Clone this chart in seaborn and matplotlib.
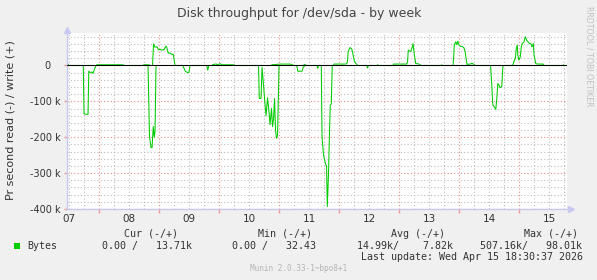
import numpy as np
import pandas as pd
import seaborn as sns
import matplotlib
matplotlib.use("Agg")
import matplotlib.pyplot as plt
from matplotlib.ticker import FixedLocator, MultipleLocator, FuncFormatter
from matplotlib.patches import Rectangle

# ---------------- data (hours since Apr 07 00:00, bytes/s) ----------------
read_hours = [11.0, 17.6, 17.9, 18.5, 19.5, 19.8, 20.4, 21.1, 21.5, 22.0, 22.7,
              43.5, 44.1, 44.7, 45.1, 45.6, 46.0, 46.3, 46.7,
              57.4, 58.4, 59.4, 59.9, 60.3,
              67.0, 67.4, 67.8,
              87.7, 88.0, 88.7, 89.1, 89.7, 90.3, 90.7, 91.3, 91.9, 92.3, 92.9,
              93.3, 93.7, 94.1, 94.5, 94.9, 95.3, 95.9,
              103.0, 103.4, 105.1, 105.6, 106.3,
              111.1, 111.4, 111.7,
              112.8, 113.1, 113.7, 114.5, 114.9, 115.2, 115.7, 116.1, 116.4, 116.8, 117.2,
              131.0, 131.3, 131.7,
              180.5, 181.0, 181.4, 181.9, 182.6, 183.0, 183.4, 183.9, 184.3, 185.0, 185.4, 185.7,
              211.0]
read_bytes = [0, 0, -134e3, -136e3, -136e3, -16e3, -20e3, -18e3, -22e3, -12e3, 0,
              0, -200e3, -229e3, -229e3, -170e3, -200e3, -185e3, 0,
              0, -16e3, -20e3, -18e3, 0,
              0, -13e3, 0,
              0, -92e3, -92e3, -5e3, -55e3, -110e3, -140e3, -90e3, -130e3, -165e3, -120e3,
              -170e3, -150e3, -92e3, -180e3, -203e3, -195e3, 0,
              0, -16e3, -16e3, -5e3, 0,
              0, -8e3, 0,
              0, -200e3, -250e3, -274e3, -280e3, -393e3, -300e3, -180e3, -111e3, -107e3, 0,
              0, -7e3, 0,
              0, -55e3, -110e3, -115e3, -122e3, -92e3, -50e3, -55e3, -62e3, -58e3, -5e3, 0,
              0]

write_hours = [11.0, 11.4, 11.9,
               22.7, 23.1, 33.5, 33.9,
               41.5, 41.7, 43.9, 44.3,
               45.3, 45.7, 46.3, 47.1, 47.7, 48.3, 49.1, 49.9, 50.6, 51.0, 51.6, 52.3,
               53.0, 53.6, 54.3,
               69.1, 69.5, 70.7, 71.5, 72.3, 73.1, 77.9, 78.3,
               92.7, 93.0, 96.7, 98.3, 100.3, 101.1, 101.9,
               105.5, 105.9, 106.3, 106.7,
               117.5, 117.9, 122.7, 123.2, 123.6, 124.3, 125.0, 125.4, 125.6, 126.0,
               126.6, 127.0, 127.5,
               135.1, 135.3, 135.7,
               141.5, 141.7, 146.9, 147.3, 147.6, 148.0, 148.6, 149.0, 149.5, 150.0,
               150.6, 151.5, 152.3, 152.7,
               160.8, 161.0, 161.3,
               165.5, 165.8, 166.0, 166.6, 167.0, 167.4, 167.9, 168.6, 169.2, 169.8,
               170.3, 170.7, 171.1, 172.3, 173.1, 173.9, 174.3,
               189.1, 189.4, 189.8, 190.4, 190.8, 191.2, 191.4, 191.8, 192.4, 192.8,
               193.2, 193.9, 194.4, 195.0, 195.5, 196.1, 196.6, 197.1, 197.6, 197.9,
               198.6, 199.5, 201.5, 201.9,
               209.5, 209.6, 209.9, 211.0]
write_bytes = [3e3, 5e3, 0,
               0, 2e3, 2e3, 0,
               0, 2e3, 2e3, 0,
               0, 60e3, 51e3, 52e3, 44e3, 45e3, 43e3, 44e3, 54e3, 50e3, 34e3, 35e3,
               31e3, 31e3, 0,
               0, 3e3, 4e3, 2e3, 5e3, 2e3, 2e3, 0,
               0, 2e3, 4e3, 4e3, 4e3, 2e3, 0,
               0, 2e3, 3e3, 0,
               0, 4e3, 4e3, 8e3, 40e3, 50e3, 46e3, 35e3, 26e3, 13e3,
               6e3, 3e3, 0,
               0, 2e3, 0,
               0, 4e3, 4e3, 10e3, 43e3, 41e3, 39e3, 47e3, 61e3, 30e3,
               5e3, 5e3, 2e3, 0,
               0, 2e3, 0,
               0, 30e3, 57e3, 66e3, 58e3, 68e3, 57e3, 53e3, 53e3, 50e3,
               40e3, 20e3, 3e3, 4e3, 6e3, 3e3, 0,
               0, 2e3, 10e3, 20e3, 47e3, 57e3, 29e3, 15e3, 24e3, 52e3,
               61e3, 66e3, 80e3, 70e3, 66e3, 61e3, 61e3, 52e3, 61e3, 29e3,
               5e3, 4e3, 4e3, 0,
               0, 2e3, 0, 0]

day_labels = ["07", "08", "09", "10", "11", "12", "13", "14", "15"]
y_ticks = [0, -100e3, -200e3, -300e3, -400e3]
y_tick_labels = ["0   ", "-100 k", "-200 k", "-300 k", "-400 k"]

legend_headers = ["Cur (-/+)", "Min (-/+)", "Avg (-/+)", "Max (-/+)"]
legend_values = ["0.00 /   13.71k", "0.00 /   32.43", "14.99k/    7.82k", "507.16k/   98.01k"]

# ---------------- figure ----------------
sns.set_theme(style="white")
W, H = 597, 280
fig = plt.figure(figsize=(W / 100, H / 100), dpi=100, facecolor="#F0F0F0")

def fx(x):
    return x / W

def fy(y):
    return 1 - y / H

# bottom/top chosen so that the zero value falls on a pixel centre
ax = fig.add_axes([fx(66.7), fy(209.0), (567.3 - 66.7) / W, (209.0 - 33.2) / H])
ax.set_facecolor("white")

GREEN = "#00CC00"
LW = 0.75
read_df = pd.DataFrame({"hour": read_hours, "value": read_bytes})
write_df = pd.DataFrame({"hour": write_hours, "value": write_bytes})
sns.lineplot(data=read_df, x="hour", y="value", ax=ax, color=GREEN, lw=LW,
             estimator=None, sort=False, zorder=3)
sns.lineplot(data=write_df, x="hour", y="value", ax=ax, color=GREEN, lw=LW,
             estimator=None, sort=False, zorder=3)
zl = ax.axhline(0, color="black", lw=LW)
zl.set_zorder(10)

ax.set_xlim(10.97, 211.2)
ax.set_ylim(-400e3, 90e3)

# x: major ticks at midnight (red), minor every 6h with day labels at noon
ax.xaxis.set_major_locator(MultipleLocator(24))
ax.xaxis.set_major_formatter(FuncFormatter(lambda v, p: ""))
ax.xaxis.set_minor_locator(MultipleLocator(6))

def day_fmt(v, p):
    if abs((v % 24) - 12) < 1e-6:
        i = int(v // 24)
        if 0 <= i < len(day_labels):
            return day_labels[i]
    return ""

ax.xaxis.set_minor_formatter(FuncFormatter(day_fmt))
ax.tick_params(axis="x", which="major", length=3, width=1, color="#ee9999",
               direction="out", bottom=True)
ax.tick_params(axis="x", which="minor", length=0, pad=3.5, labelsize=7.5,
               labelcolor="#333333", bottom=True)

ax.yaxis.set_major_locator(FixedLocator(y_ticks))
ax.set_yticklabels(y_tick_labels)
ax.yaxis.set_minor_locator(MultipleLocator(20e3))
ax.tick_params(axis="y", which="major", length=2, width=1, color="#ee9999",
               labelsize=7, labelcolor="#333333", pad=2.5, left=True)
ax.tick_params(axis="y", which="minor", length=0)

ax.grid(True, which="minor", color="#bdbdbd", lw=0.8, ls=(0, (1, 2)), zorder=1)
ax.grid(True, which="major", color="#ea8c8c", lw=0.8, ls=(0, (1, 2)), zorder=1)
ax.set_axisbelow(True)

for s in ["top", "right"]:
    ax.spines[s].set_visible(False)
for s in ["left", "bottom"]:
    ax.spines[s].set_color("#c8c8f0")
    ax.spines[s].set_linewidth(1.0)
    ax.spines[s].set_zorder(5)

# axis arrows
ax.plot([0], [1.02], marker="^", ms=5, color="#c8c8f0", transform=ax.transAxes,
        clip_on=False, zorder=6)
ax.plot([1.007], [0], marker=">", ms=5, color="#c8c8f0", transform=ax.transAxes,
        clip_on=False, zorder=6)

ax.set_xlabel("")
ax.set_ylabel("")

# ---------------- texts ----------------
fig.text(fx(298.7), fy(13.3), "Disk throughput for /dev/sda - by week",
         ha="center", va="center", fontsize=9, color="#444444")
fig.text(fx(11), fy(120.5), "Pr second read (-) / write (+)", rotation=90,
         ha="center", va="center", fontsize=8, color="#333333")
fig.text(fx(589), fy(56), "RRDTOOL / TOBI OETIKER", rotation=270,
         ha="center", va="center", fontsize=5.7, color="#c0c0c0")

mono = "DejaVu Sans Mono"
fig.patches.append(Rectangle((fx(14), fy(248.5)), 6 / W, 6 / H, transform=fig.transFigure,
                             facecolor=GREEN, edgecolor="none"))
fig.text(fx(27), fy(245.7), "Bytes", family=mono, fontsize=7.2, color="#333333",
         ha="left", va="center")
header_x = [124, 257.7, 390.7, 524]
value_x = [101.7, 231.7, 356.7, 480.3]
for hx, htxt in zip(header_x, legend_headers):
    fig.text(fx(hx), fy(233.7), htxt, family=mono, fontsize=7.2, color="#333333",
             ha="left", va="center")
for vx, vtxt in zip(value_x, legend_values):
    fig.text(fx(vx), fy(245.7), vtxt, family=mono, fontsize=7.2, color="#333333",
             ha="left", va="center")
fig.text(fx(583.3), fy(257.3), "Last update: Wed Apr 15 18:30:37 2026", family=mono,
         fontsize=7.2, color="#333333", ha="right", va="center")
fig.text(fx(298.5), fy(268.7), "Munin 2.0.33-1~bpo8+1", family=mono, fontsize=5.6,
         color="#b4b4b4", ha="center", va="center")

fig.savefig("out.png", dpi=100, facecolor=fig.get_facecolor())
